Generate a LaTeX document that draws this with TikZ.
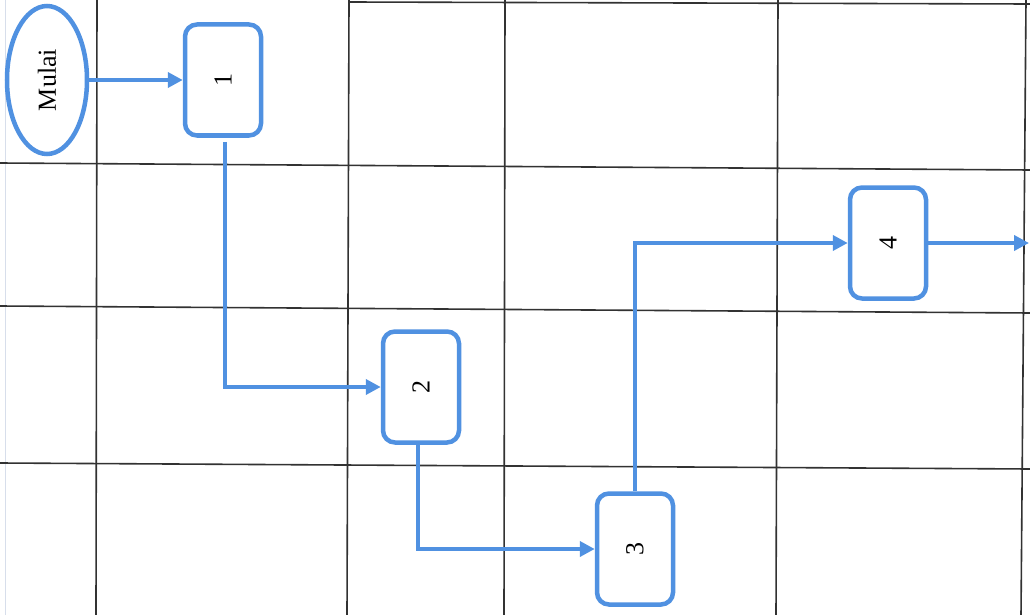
\documentclass[tikz,border=0pt]{standalone}
\usepackage{fontspec}
\setmainfont{Liberation Serif}
\usetikzlibrary{arrows.meta,shapes.geometric}
\definecolor{flow}{RGB}{80,145,225}
\definecolor{gridc}{RGB}{50,50,50}
\tikzset{
  gridline/.style={draw=gridc, line width=1.6pt},
  stepbox/.style={draw=flow, line width=4.5pt, rounded corners=12pt, fill=white,
    minimum width=76pt, minimum height=111pt, inner sep=0pt, font=\fontsize{26}{30}\selectfont},
  startnode/.style={ellipse, draw=flow, line width=4.5pt, fill=white,
    minimum width=80pt, minimum height=148pt, inner sep=0pt, font=\fontsize{26}{30}\selectfont},
  conn/.style={draw=flow, line width=4pt, -{Triangle[length=15pt,width=15pt]}}
}
\begin{document}
\begin{tikzpicture}[x=1pt,y=-1pt]
\useasboundingbox (0,0) rectangle (1030,615);
\fill[white] (0,0) rectangle (1030,615);
% faint page edge
\draw[draw={rgb,255:red,215;green,222;blue,235}, line width=1pt] (5,0) -- (5,615);
% grid
\draw[gridline] (349,2) -- (1030,4);
\draw[gridline] (0,163) -- (1030,170);
\draw[gridline] (0,306) -- (1030,313);
\draw[gridline] (0,463) -- (1030,469);
\draw[gridline] (97,0) -- (96,615);
\draw[gridline] (349,0) -- (347,615);
\draw[gridline] (505,0) -- (504,615);
\draw[gridline] (778,0) -- (776,615);
\draw[gridline] (1026,0) -- (1021,615);
% nodes
\node[startnode] (m) at (47,80) {\rotatebox{90}{Mulai}};
\node[stepbox] (b1) at (223,80) {\rotatebox{90}{1}};
\node[stepbox] (b2) at (421,387) {\rotatebox{90}{2}};
\node[stepbox] (b3) at (635,549) {\rotatebox{90}{3}};
\node[stepbox] (b4) at (888,243) {\rotatebox{90}{4}};
\coordinate (out) at (1029,243);
% connectors
\draw[conn] (m.east) -- (b1.west);
\draw[conn, shorten <=4pt] ([xshift=2pt]b1.south) |- (b2.west);
\draw[conn] ([xshift=-3pt]b2.south) |- (b3.west);
\draw[conn] (b3.north) |- (b4.west);
\draw[conn] (b4.east) -- (out);
\end{tikzpicture}
\end{document}
